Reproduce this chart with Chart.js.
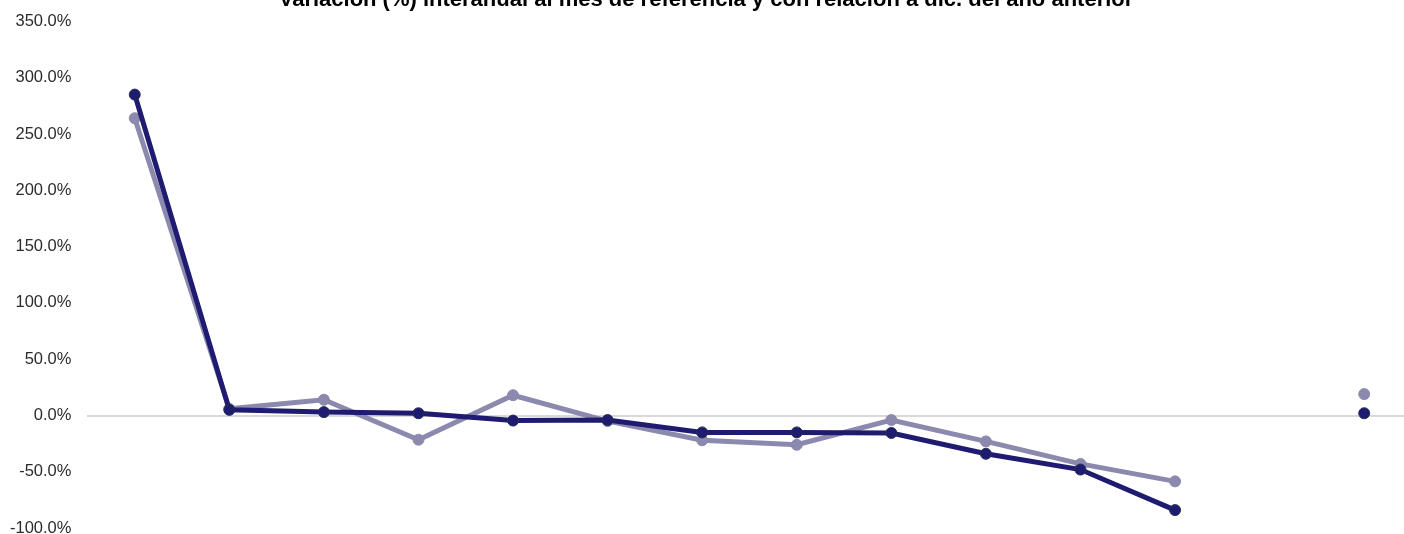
<!DOCTYPE html>
<html>
<head>
<meta charset="utf-8">
<script src="https://cdn.jsdelivr.net/npm/chart.js@4.4.0/dist/chart.umd.min.js"></script>
<style>
  html, body { margin: 0; padding: 0; background: #fff; overflow: hidden; }
  #wrap { position: absolute; left: 0; top: -18px; width: 1418px; height: 572px; }
</style>
</head>
<body>
<div id="wrap"><canvas id="chart"></canvas></div>
<script>
// categories (the original has no visible labels)
const categorias = ['1', '2', '3', '4', '5', '6', '7', '8', '9', '10', '11', '12', '13', '14'];
const serieMes = [285, 5, 3, 2, -4.5, -4, -15, -15, -15.5, -34, -48, -84, null, 2];
const serieDic = [264, 6, 14, -21.5, 18, -5, -22, -26, -4, -23, -43, -58.5, null, 19];
const tituloChart = 'Variación (%) interanual al mes de referencia y con relación a dic. del año anterior';

const ctx = document.getElementById('chart');

new Chart(ctx, {
  type: 'line',
  data: {
    labels: categorias,
    datasets: [{
      label: 'Mes de referencia',
      data: serieMes,
      borderColor: '#1f1b70',
      backgroundColor: '#1f1b70',
      pointBorderColor: '#22304f',
      borderWidth: 5,
      pointRadius: 5.5,
      pointBorderWidth: 1,
      spanGaps: false
    }, {
      label: 'Diciembre año anterior',
      data: serieDic,
      borderColor: '#8b89ad',
      backgroundColor: '#8b89ad',
      pointBorderColor: '#8b89ad',
      borderWidth: 5,
      pointRadius: 5.5,
      pointBorderWidth: 1,
      spanGaps: false
    }]
  },
  options: {
    responsive: true,
    maintainAspectRatio: false,
    animation: false,
    layout: { padding: { left: -6, right: 0 } },
    plugins: {
      legend: { display: false },
      tooltip: { enabled: false },
      title: {
        display: true,
        text: tituloChart,
        color: '#000',
        font: { family: 'Liberation Sans, Arial', size: 22, weight: 'bold' },
        padding: { top: 5, bottom: 8 }
      }
    },
    scales: {
      x: {
        display: false,
        offset: true
      },
      y: {
        min: -100,
        max: 350,
        border: { display: false },
        grid: {
          drawTicks: false,
          color: c => c.tick.value === 0 ? '#d9d9d9' : 'rgba(0,0,0,0)',
          lineWidth: 2
        },
        ticks: {
          stepSize: 50,
          padding: 16,
          color: '#2b2b2b',
          font: { family: 'Liberation Sans, Arial', size: 16.5 },
          callback: v => v.toFixed(1) + '%'
        }
      }
    }
  }
});
</script>
</body>
</html>
